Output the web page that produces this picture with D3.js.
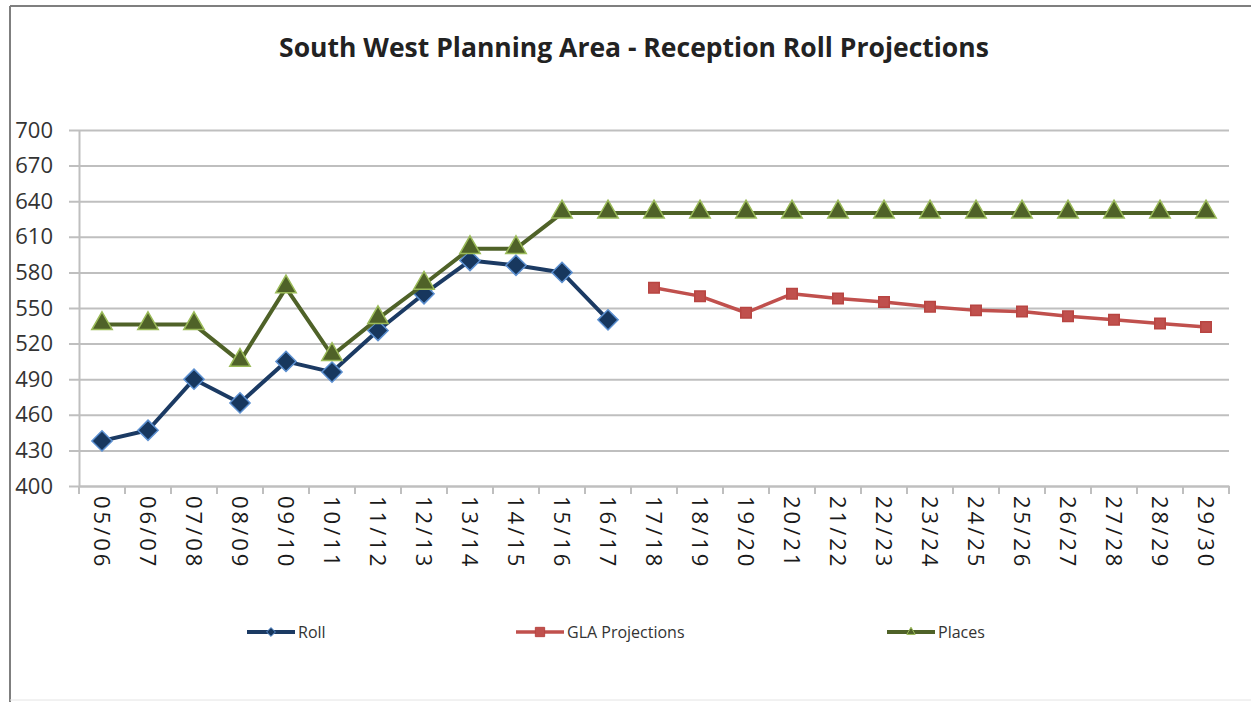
<!DOCTYPE html>
<html>
<head>
<meta charset="utf-8">
<script src="https://cdn.jsdelivr.net/npm/d3@7"></script>
<style>
  body { margin: 0; background: #fff; }
  svg { display: block; font-family: "Open Sans", sans-serif; }
</style>
</head>
<body>
<div id="chart"></div>
<script>
const years = ["05/06","06/07","07/08","08/09","09/10","10/11","11/12","12/13","13/14","14/15","15/16","16/17",
               "17/18","18/19","19/20","20/21","21/22","22/23","23/24","24/25","25/26","26/27","27/28","28/29","29/30"];
const roll = [438, 447, 490, 470, 505, 496, 531, 562, 590, 586, 580, 540];
const gla = [null, null, null, null, null, null, null, null, null, null, null, null,
             567, 560, 546, 562, 558, 555, 551, 548, 547, 543, 540, 537, 534];
const places = [536, 536, 536, 505, 567, 510, 541, 570, 600, 600, 630, 630,
                630, 630, 630, 630, 630, 630, 630, 630, 630, 630, 630, 630, 630];
const yTicks = [400, 430, 460, 490, 520, 550, 580, 610, 640, 670, 700];

const W = 1251, H = 702;
const plot = {left: 79, right: 1229, top: 130, bottom: 486};

const svg = d3.select("#chart").append("svg")
    .attr("width", W)
    .attr("height", H);

// frame (cropped screenshot of an Excel chart)
svg.append("line").attr("x1", 10).attr("x2", W).attr("y1", 6).attr("y2", 6)
    .attr("stroke", "#7f7f7f").attr("stroke-width", 2);
svg.append("line").attr("x1", 10).attr("x2", 10).attr("y1", 6).attr("y2", H)
    .attr("stroke", "#7f7f7f").attr("stroke-width", 2);
svg.append("line").attr("x1", 10).attr("x2", W).attr("y1", 700).attr("y2", 700)
    .attr("stroke", "#e4e4e4").attr("stroke-width", 1);

svg.append("text")
    .attr("x", 634).attr("y", 57)
    .attr("text-anchor", "middle")
    .attr("font-size", 26.5).attr("font-weight", "bold").attr("fill", "#222")
    .text("South West Planning Area - Reception Roll Projections");

const x = d3.scaleBand().domain(years).range([plot.left, plot.right]);
const y = d3.scaleLinear().domain([400, 700]).range([plot.bottom, plot.top]);
const cx = d => x(d) + x.bandwidth() / 2;

// gridlines + y axis
const yAxis = svg.append("g")
    .attr("transform", `translate(${plot.left},0)`)
    .call(d3.axisLeft(y).tickValues(yTicks).tickSize(10).tickSizeOuter(0));
yAxis.select(".domain").attr("stroke", "#bfbfbf").attr("stroke-width", 2);
yAxis.selectAll(".tick line").attr("stroke", "#bfbfbf").attr("stroke-width", 2)
    .attr("x2", -10).attr("x1", plot.right - plot.left);
yAxis.selectAll(".tick text").attr("font-size", 22).attr("fill", "#333")
    .attr("x", -26).attr("font-family", "Open Sans");

// x axis
const xAxis = svg.append("g")
    .attr("transform", `translate(0,${plot.bottom})`)
    .call(d3.axisBottom(x).tickSize(0).tickSizeOuter(0));
xAxis.select(".domain").attr("stroke", "#bfbfbf").attr("stroke-width", 2);
xAxis.selectAll(".tick text")
    .attr("font-size", 22).attr("fill", "#1a1a1a").attr("font-family", "Open Sans")
    .attr("letter-spacing", 3)
    .attr("transform", "rotate(90)")
    .attr("x", 10).attr("y", 0).attr("dy", "0.35em")
    .style("text-anchor", "start");
xAxis.selectAll(".bound")
    .data(years.concat(["end"]))
    .enter().append("line")
    .attr("x1", (d, i) => plot.left + i * x.bandwidth())
    .attr("x2", (d, i) => plot.left + i * x.bandwidth())
    .attr("y1", 0).attr("y2", 8)
    .attr("stroke", "#bfbfbf").attr("stroke-width", 2);

const line = d3.line()
    .defined(d => d.v != null)
    .x(d => cx(d.k))
    .y(d => y(d.v));
const toPts = arr => arr.map((v, i) => ({k: years[i], v: v}));

const series = [
  {name: "Roll", data: roll, stroke: "#1b3a63", width: 4, marker: "diamond", fill: "#17375e", edge: "#5b8fd0"},
  {name: "GLA Projections", data: gla, stroke: "#c0504d", width: 3.5, marker: "square", fill: "#c0504d", edge: "#b84542"},
  {name: "Places", data: places, stroke: "#4f6228", width: 4, marker: "triangle", fill: "#4f6228", edge: "#9bbb59"}
];
const symbolType = {diamond: d3.symbolDiamond2, square: d3.symbolSquare2, triangle: d3.symbolTriangle2};
const symbolSize = {diamond: 260, square: 140, triangle: 300};

series.forEach(s => {
  const pts = toPts(s.data);
  svg.append("path").datum(pts)
      .attr("fill", "none").attr("stroke", s.stroke).attr("stroke-width", s.width)
      .attr("stroke-linejoin", "round").attr("d", line);
  svg.selectAll(null).data(pts.filter(d => d.v != null))
      .enter().append("path")
      .attr("d", d3.symbol().type(symbolType[s.marker]).size(symbolSize[s.marker]))
      .attr("transform", d => `translate(${cx(d.k)},${y(d.v) + (s.marker === "triangle" ? -1 : 0)})`)
      .attr("fill", s.fill).attr("stroke", s.edge).attr("stroke-width", 1.5);
});

// legend
const legendX = [247, 516, 887];
series.forEach((s, i) => {
  const g = svg.append("g").attr("transform", `translate(${legendX[i]},632)`);
  g.append("line").attr("x1", 0).attr("x2", 48).attr("y1", 0).attr("y2", 0)
      .attr("stroke", s.stroke).attr("stroke-width", s.width);
  g.append("path")
      .attr("d", d3.symbol().type(symbolType[s.marker]).size(s.marker === "square" ? 110 : 50))
      .attr("transform", "translate(24,0)")
      .attr("fill", s.fill).attr("stroke", s.edge).attr("stroke-width", 1);
  g.append("text").attr("x", 51).attr("y", 0).attr("dy", "0.35em")
      .attr("font-size", 16).attr("fill", "#333")
      .text(s.name);
});
</script>
</body>
</html>
